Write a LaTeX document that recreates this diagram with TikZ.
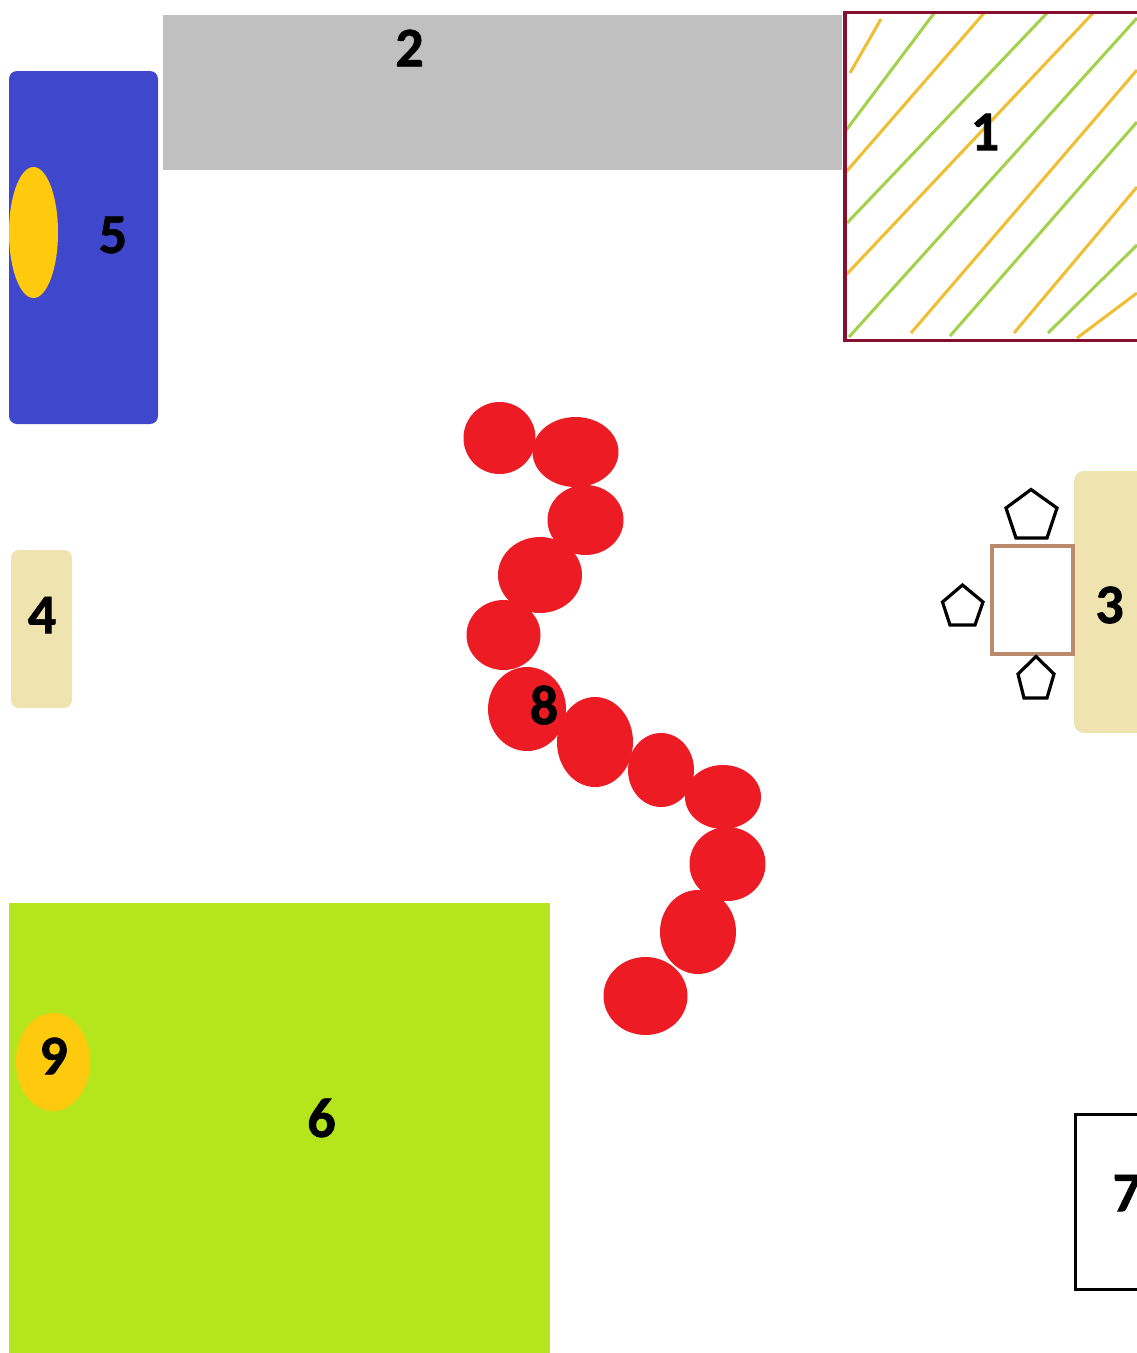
\documentclass[tikz,border=0pt]{standalone}
\usepackage{fontspec}
\setmainfont{Carlito}[BoldFeatures={FakeBold=1.2}]
\usetikzlibrary{shapes.geometric}
\definecolor{zonegray}{HTML}{C0C0C0}
\definecolor{zoneblue}{HTML}{3F48CC}
\definecolor{zonesand}{HTML}{EFE4B0}
\definecolor{zonelime}{HTML}{B5E61D}
\definecolor{zonegold}{HTML}{FFC90E}
\definecolor{zonered}{HTML}{ED1C24}
\definecolor{framered}{HTML}{880F2F}
\definecolor{hatchgreen}{HTML}{A2D14A}
\definecolor{hatchorange}{HTML}{F0BE32}
\definecolor{tablebrown}{HTML}{B98B6C}
\tikzset{
  x=1pt,y=-1pt,
  label text/.style={font=\fontsize{56}{56}\selectfont\bfseries,text=black,inner sep=0pt},
  box/.style={rectangle,draw=none,inner sep=0pt,outer sep=0pt},
  blob/.style={ellipse,fill=zonered,draw=none,inner sep=0pt,outer sep=0pt},
  green hatch/.style={draw=hatchgreen,line width=3pt},
  orange hatch/.style={draw=hatchorange,line width=3pt},
  seat/.style={draw=black,line width=3.2pt,fill=white,line join=miter},
}
\newcommand{\boxat}[6]{\node[box,#2,minimum width=#5-#3,minimum height=#6-#4] (#1) at ({(#3+#5)/2},{(#4+#6)/2}) {};}
\newcommand{\blobat}[5]{\node[blob,minimum width=2*#4,minimum height=2*#5] (#1) at (#2,#3) {};}
\begin{document}
\begin{tikzpicture}
\useasboundingbox (0,0) rectangle (1137,1353);
\clip (0,0) rectangle (1137,1353);
\fill[white] (0,0) rectangle (1137,1353);
% gray zone
\boxat{zoneB}{fill=zonegray}{163}{15}{842}{170}
% blue zone
\boxat{zoneE}{fill=zoneblue,rounded corners=8pt}{9}{71}{158}{424}
\node[ellipse,fill=zonegold,inner sep=0pt,minimum width=49,minimum height=131] (spotE) at (33.5,232.5) {};
% hatched zone
\draw[orange hatch] (850,73) -- (881,19);
\draw[green hatch] (844,133) -- (935,12);
\draw[orange hatch] (846,172) -- (985,12);
\draw[green hatch] (847,223) -- (1048,12);
\draw[orange hatch] (844,277) -- (1094,12);
\draw[green hatch] (849,337) -- (1137,18);
\draw[orange hatch] (911,333) -- (1137,70);
\draw[green hatch] (950,336) -- (1137,122);
\draw[orange hatch] (1014,333) -- (1137,187);
\draw[green hatch] (1048,333) -- (1137,245);
\draw[orange hatch] (1077,338) -- (1137,293);
\draw[draw=framered,line width=3.2pt] (845,12.5) rectangle (1150,340.5);
% sand zones
\boxat{zoneD}{fill=zonesand,rounded corners=8pt}{11}{550}{72}{708}
\boxat{zoneC}{fill=zonesand,rounded corners=10pt}{1074}{471}{1160}{733}
% table and seats
\node[box,draw=tablebrown,line width=3.4pt,minimum width=81,minimum height=108] (tbl) at (1032.5,600) {};
\draw[seat] (1031,489.5) -- (1057,508) -- (1047,538) -- (1016,538) -- (1006,508) -- cycle;
\draw[seat] (962.5,585) -- (983,602) -- (975,625) -- (950,625) -- (942.5,602) -- cycle;
\draw[seat] (1036,656.5) -- (1054,674) -- (1047,698) -- (1024,698) -- (1018,674) -- cycle;
% lime zone
\boxat{zoneF}{fill=zonelime}{9}{903}{550}{1353}
\node[ellipse,fill=zonegold,inner sep=0pt,minimum width=74,minimum height=98] (spotI) at (53,1062) {};
% white box
\node[box,draw=black,line width=3pt,fill=white,minimum width=100,minimum height=175] (zoneG) at (1125,1201.5) {};
% red chain
\blobat{r1}{499.5}{438}{36}{36}
\blobat{r2}{575.5}{452}{43}{35}
\blobat{r3}{585.5}{520}{38}{35}
\blobat{r4}{540}{575}{42}{38}
\blobat{r5}{503.5}{635}{37}{35}
\blobat{r6}{527}{709}{39}{42}
\blobat{r7}{595}{742}{38}{45}
\blobat{r8}{661}{770}{33}{37}
\blobat{r9}{723}{797}{38}{32}
\blobat{r10}{727.5}{864}{38}{37}
\blobat{r11}{698}{932}{38}{42}
\blobat{r12}{645.5}{996}{42}{39}
% labels
\node[label text] (n1) at (985,132) {1};
\node[label text] (n2) at (409.5,48) {2};
\node[label text] (n3) at (1109.5,605) {3};
\node[label text] (n4) at (42,615) {4};
\node[label text] (n5) at (113,235) {5};
\node[label text] (n6) at (321.5,1118) {6};
\node[label text] (n7) at (1127,1193) {7};
\node[label text] (n8) at (544,705) {8};
\node[label text] (n9) at (53.5,1056) {9};
\end{tikzpicture}
\end{document}
